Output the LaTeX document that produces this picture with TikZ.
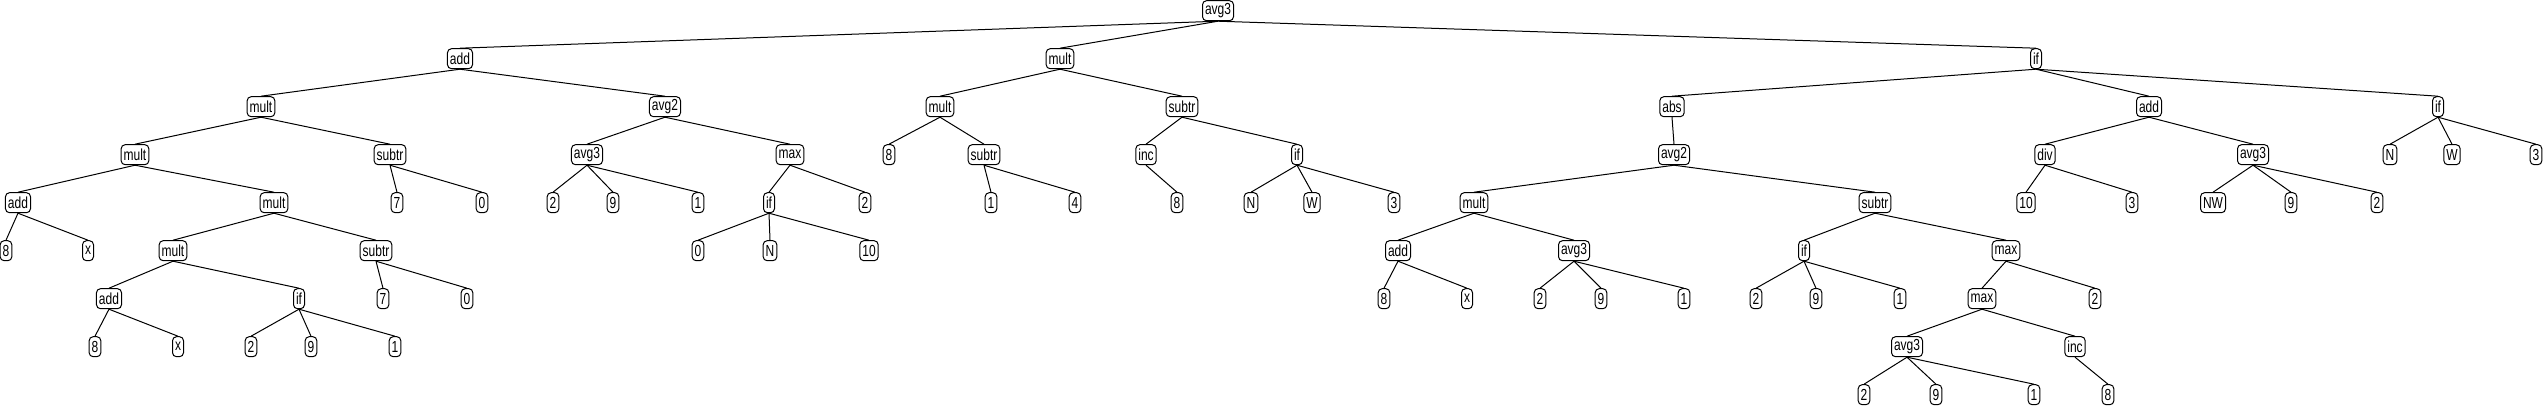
\documentclass[tikz,border=0pt]{standalone}
\usepackage{fontspec}
\setmainfont{Liberation Sans}[FakeStretch=0.75]
\newcommand\tn[4]{\node[t] (#1) at ({#2},{10.7+48*#3}) {#4};}
\begin{document}
\begin{tikzpicture}[x=1pt,y=-1pt,
  t/.style={draw, rounded corners=4pt, minimum height=20pt, inner xsep=2.5pt, inner ysep=0pt,
            font=\fontsize{16}{16}\selectfont, line width=1pt, fill=white},
  e/.style={line width=1pt}]
\useasboundingbox (0,0) rectangle (2548,405);
% level 0
\tn{r}{1218}{0}{avg3}
% level 1
\tn{a}{460}{1}{add}
\tn{m}{1060}{1}{mult}
\tn{f}{2036}{1}{if}
% level 2
\tn{am}{261}{2}{mult}
\tn{av}{665}{2}{avg2}
\tn{mm}{940}{2}{mult}
\tn{ms}{1182}{2}{subtr}
\tn{fa}{1672}{2}{abs}
\tn{fd}{2149}{2}{add}
\tn{fi}{2438}{2}{if}
% level 3
\tn{amm}{135}{3}{mult}
\tn{ams}{390}{3}{subtr}
\tn{ava}{587}{3}{avg3}
\tn{avx}{790}{3}{max}
\tn{mmE}{889}{3}{8}
\tn{mms}{984}{3}{subtr}
\tn{msi}{1146}{3}{inc}
\tn{msf}{1297}{3}{if}
\tn{fav}{1674}{3}{avg2}
\tn{fdd}{2045}{3}{div}
\tn{fda}{2253}{3}{avg3}
\tn{fiN}{2390}{3}{N}
\tn{fiW}{2452}{3}{W}
\tn{fiT}{2536}{3}{3}
% level 4
\tn{amma}{18}{4}{add}
\tn{ammm}{274}{4}{mult}
\tn{amsS}{397}{4}{7}
\tn{amsZ}{482}{4}{0}
\tn{avaA}{553}{4}{2}
\tn{avaB}{613}{4}{9}
\tn{avaC}{698}{4}{1}
\tn{avxf}{769}{4}{if}
\tn{avxT}{865}{4}{2}
\tn{mmsA}{991}{4}{1}
\tn{mmsB}{1075}{4}{4}
\tn{msiE}{1177}{4}{8}
\tn{msfN}{1251}{4}{N}
\tn{msfW}{1312}{4}{W}
\tn{msfT}{1394}{4}{3}
\tn{favm}{1474}{4}{mult}
\tn{favs}{1875}{4}{subtr}
\tn{fddA}{2026}{4}{10}
\tn{fddB}{2132}{4}{3}
\tn{fdaA}{2213}{4}{NW}
\tn{fdaB}{2291}{4}{9}
\tn{fdaC}{2377}{4}{2}
% level 5
\tn{ammaA}{6}{5}{8}
\tn{ammaB}{88}{5}{x}
\tn{ammmm}{173}{5}{mult}
\tn{ammms}{376}{5}{subtr}
\tn{avxfA}{698}{5}{0}
\tn{avxfB}{770}{5}{N}
\tn{avxfC}{869}{5}{10}
\tn{favma}{1398}{5}{add}
\tn{favmv}{1574}{5}{avg3}
\tn{favsf}{1804}{5}{if}
\tn{favsm}{2006}{5}{max}
% level 6
\tn{pA}{109}{6}{add}
\tn{pB}{299}{6}{if}
\tn{pC}{383}{6}{7}
\tn{pD}{467}{6}{0}
\tn{qA}{1384}{6}{8}
\tn{qB}{1467}{6}{x}
\tn{qC}{1540}{6}{2}
\tn{qD}{1601}{6}{9}
\tn{qE}{1684}{6}{1}
\tn{qF}{1756}{6}{2}
\tn{qG}{1816}{6}{9}
\tn{qH}{1900}{6}{1}
\tn{qI}{1982}{6}{max}
\tn{qJ}{2095}{6}{2}
% level 7
\tn{sA}{95}{7}{8}
\tn{sB}{178}{7}{x}
\tn{sC}{251}{7}{2}
\tn{sD}{311}{7}{9}
\tn{sE}{395}{7}{1}
\tn{tA}{1907}{7}{avg3}
\tn{tB}{2075}{7}{inc}
% level 8
\tn{uA}{1864}{8}{2}
\tn{uB}{1936}{8}{9}
\tn{uC}{2034}{8}{1}
\tn{uD}{2108}{8}{8}
% edges
\foreach \p/\c in {r/a,r/m,r/f,
  a/am,a/av,m/mm,m/ms,f/fa,f/fd,f/fi,
  am/amm,am/ams,av/ava,av/avx,mm/mmE,mm/mms,ms/msi,ms/msf,fa/fav,fd/fdd,fd/fda,fi/fiN,fi/fiW,fi/fiT,
  amm/amma,amm/ammm,ams/amsS,ams/amsZ,ava/avaA,ava/avaB,ava/avaC,avx/avxf,avx/avxT,
  mms/mmsA,mms/mmsB,msi/msiE,msf/msfN,msf/msfW,msf/msfT,fav/favm,fav/favs,
  fdd/fddA,fdd/fddB,fda/fdaA,fda/fdaB,fda/fdaC,
  amma/ammaA,amma/ammaB,ammm/ammmm,ammm/ammms,avxf/avxfA,avxf/avxfB,avxf/avxfC,
  favm/favma,favm/favmv,favs/favsf,favs/favsm,
  ammmm/pA,ammmm/pB,ammms/pC,ammms/pD,favma/qA,favma/qB,favmv/qC,favmv/qD,favmv/qE,
  favsf/qF,favsf/qG,favsf/qH,favsm/qI,favsm/qJ,
  pA/sA,pA/sB,pB/sC,pB/sD,pB/sE,qI/tA,qI/tB,
  tA/uA,tA/uB,tA/uC,tB/uD}
  \draw[e] (\p.south) -- (\c.north);
\end{tikzpicture}
\end{document}
